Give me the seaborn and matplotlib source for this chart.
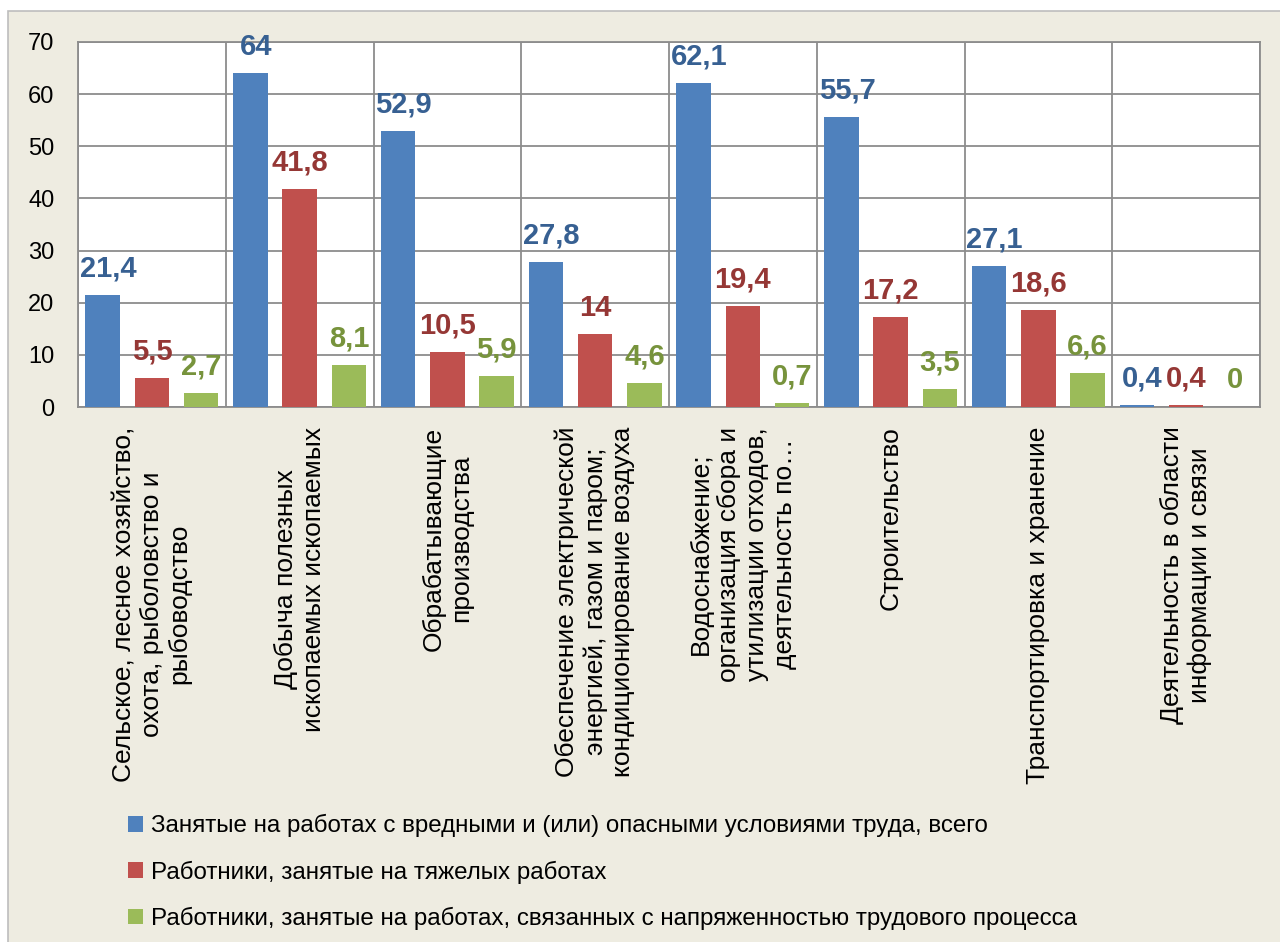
import matplotlib
matplotlib.use("Agg")
import matplotlib.pyplot as plt
from matplotlib.patches import Rectangle, Patch
import seaborn as sns
import pandas as pd

# categories (x axis), line breaks as in the source chart
categories = [
    "Сельское, лесное хозяйство,\nохота, рыболовство и\nрыбоводство",
    "Добыча полезных\nископаемых ископаемых",
    "Обрабатывающие\nпроизводства",
    "Обеспечение электрической\nэнергией, газом и паром;\nкондиционирование воздуха",
    "Водоснабжение;\nорганизация сбора и\nутилизации отходов,\nдеятельность по…",
    "Строительство",
    "Транспортировка и хранение",
    "Деятельность в области\nинформации и связи",
]

series_names = [
    "Занятые на работах с вредными и (или) опасными условиями труда, всего",
    "Работники, занятые на тяжелых работах",
    "Работники, занятые на работах, связанных с напряженностью трудового процесса",
]

harmful_total = [21.4, 64, 52.9, 27.8, 62.1, 55.7, 27.1, 0.4]
heavy_work = [5.5, 41.8, 10.5, 14, 19.4, 17.2, 18.6, 0.4]
intense_work = [2.7, 8.1, 5.9, 4.6, 0.7, 3.5, 6.6, 0]

yticks = [0, 10, 20, 30, 40, 50, 60, 70]

bar_colors = ["#4F81BD", "#C0504D", "#9BBB59"]
label_colors = ["#376092", "#953735", "#77933C"]

sns.set_theme(style="white")
plt.rcParams["font.family"] = ["Liberation Sans", "DejaVu Sans"]
plt.rcParams["text.color"] = "black"
plt.rcParams["xtick.color"] = "black"
plt.rcParams["ytick.color"] = "black"

# long table for seaborn
rows = []
for name, vals in zip(series_names, [harmful_total, heavy_work, intense_work]):
    for cat, v in zip(categories, vals):
        rows.append({"cat": cat, "series": name, "value": v})
df = pd.DataFrame(rows)

fig = plt.figure(figsize=(12.8, 9.42), dpi=100)
fig.patch.set_facecolor("white")

# cream chart-area box like the office chart
fig.add_artist(Rectangle((8 / 1280, -0.01), 1.0, 1 - 11 / 942 + 0.01, transform=fig.transFigure,
                         facecolor="#EEECE1", edgecolor="#BDBDBD", lw=1.2, zorder=-1))

ax = fig.add_axes([78 / 1280, 1 - 407 / 942, (1260 - 78) / 1280, (407 - 42) / 942])
ax.set_facecolor("white")

sns.barplot(data=df, x="cat", y="value", hue="series", order=categories, hue_order=series_names,
            palette=bar_colors, saturation=1, width=1.0, gap=0.3, linewidth=0, legend=False,
            ax=ax, zorder=3)

ax.set_xlim(-0.5, len(categories) - 0.5)
ax.set_ylim(0, 70)
ax.set_yticks(yticks)
ax.set_xlabel("")
ax.set_ylabel("")

# grid: horizontal lines + category separators
grid_color = "#8C8C8C"
ax.set_xticks([i - 0.5 for i in range(len(categories) + 1)], minor=True)
ax.grid(True, axis="y", color=grid_color, lw=1.3, zorder=0)
ax.grid(True, axis="x", which="minor", color=grid_color, lw=1.3, zorder=0)
ax.tick_params(axis="x", which="major", length=0, pad=14)
ax.tick_params(axis="x", which="minor", length=8, width=1.3, color=grid_color, direction="out")
ax.tick_params(axis="y", length=8, width=1.3, color=grid_color, labelcolor="black",
               direction="out", labelsize=17, pad=9)
for side in ["left", "bottom", "right", "top"]:
    ax.spines[side].set_color(grid_color)
    ax.spines[side].set_linewidth(1.3)

ax.set_xticks(range(len(categories)))
ax.set_xticklabels(categories, rotation=90, ha="center", va="top", multialignment="center",
                   fontsize=19, color="black")

# value labels above the bars
for i, cont in enumerate(ax.containers):
    x_shift = 4 if i == 0 else 0
    for bar in cont.patches:
        v = bar.get_height()
        txt = f"{v:g}".replace(".", ",")
        ax.annotate(txt, (bar.get_x() + bar.get_width() / 2, v), xytext=(x_shift, 9),
                    textcoords="offset points", ha="center", va="bottom",
                    fontsize=21, fontweight="bold", color=label_colors[i], zorder=5)

handles = [Patch(facecolor=c, edgecolor="none") for c in bar_colors]
fig.legend(handles, series_names, loc="center left", bbox_to_anchor=(128 / 1280, 1 - 872 / 942),
           frameon=False, fontsize=17.4, handlelength=0.6, handleheight=0.6, handletextpad=0.35,
           labelspacing=0.95, borderpad=0, borderaxespad=0, labelcolor="black")

fig.savefig("out.png", dpi=100)
